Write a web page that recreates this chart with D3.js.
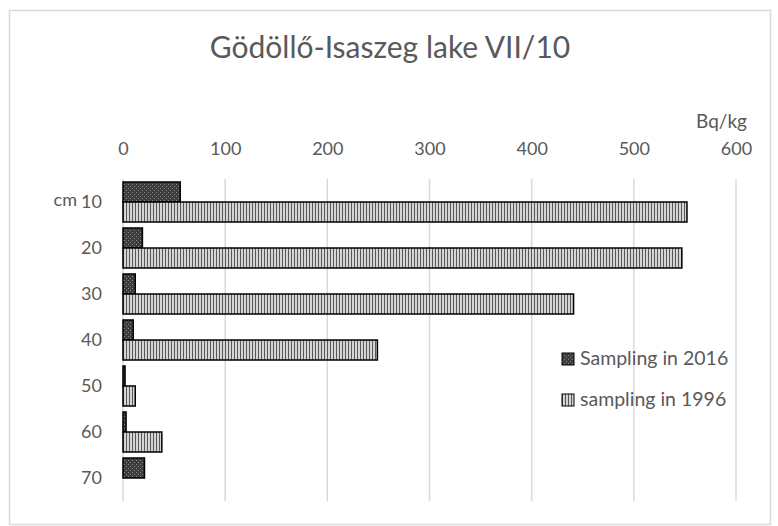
<!DOCTYPE html>
<html lang="en">
<head>
<meta charset="utf-8">
<title>Gödöllő-Isaszeg lake VII/10</title>
<script src="https://d3js.org/d3.v7.min.js"></script>
<style>
  body { margin: 0; background: #fff; }
  text { font-family: Lato, "Open Sans", sans-serif; fill: #595959; }
</style>
</head>
<body>
<div id="chart"></div>
<script>
// depth categories (cm) and activity concentrations (Bq/kg)
var depths = ["10", "20", "30", "40", "50", "60", "70"];
var sampling2016 = [56, 19, 12, 10, 2, 3, 21];
var sampling1996 = [552, 547, 441, 249, 12, 38, 0];
var xTicks = [0, 100, 200, 300, 400, 500, 600];
var seriesNames = ["Sampling in 2016", "sampling in 1996"];

var width = 778, height = 526;
var plot = {left: 123, right: 736, top: 179, bottom: 501};

var svg = d3.select("#chart").append("svg")
  .attr("width", width)
  .attr("height", height);

// fill patterns like the excel hatch fills
var defs = svg.append("defs");
var p1 = defs.append("pattern")
  .attr("id", "dots")
  .attr("width", 4).attr("height", 4)
  .attr("patternUnits", "userSpaceOnUse");
p1.append("rect").attr("width", 4).attr("height", 4).attr("fill", "#3c3c3c");
p1.append("rect").attr("x", 0).attr("y", 0).attr("width", 1).attr("height", 1).attr("fill", "#8a8a8a");
p1.append("rect").attr("x", 2).attr("y", 2).attr("width", 1).attr("height", 1).attr("fill", "#8a8a8a");

var p2 = defs.append("pattern")
  .attr("id", "vlines")
  .attr("width", 3).attr("height", 4)
  .attr("patternUnits", "userSpaceOnUse");
p2.append("rect").attr("width", 3).attr("height", 4).attr("fill", "#d4d4d4");
p2.append("rect").attr("x", 0).attr("width", 1).attr("height", 4).attr("fill", "#5a5a5a");

// outer border
svg.append("rect")
  .attr("x", 9.5).attr("y", 10.5)
  .attr("width", 761).attr("height", 514)
  .attr("fill", "none")
  .attr("stroke", "#d9d9d9")
  .attr("stroke-width", 1.5);

var x = d3.scaleLinear()
  .domain([0, 600])
  .range([plot.left, plot.right]);

var y = d3.scaleBand()
  .domain(depths)
  .range([plot.top, plot.bottom])
  .paddingInner(0.13)
  .paddingOuter(0.065);

var sub = d3.scaleBand()
  .domain([0, 1])
  .range([0, y.bandwidth()]);

// gridlines
svg.append("g")
  .selectAll("line")
  .data(xTicks)
  .join("line")
  .attr("x1", d => x(d)).attr("x2", d => x(d))
  .attr("y1", plot.top).attr("y2", plot.bottom)
  .attr("stroke", "#d9d9d9")
  .attr("stroke-width", 1.5);

// top axis labels
var xAxis = d3.axisTop(x).tickValues(xTicks).tickSize(0).tickPadding(0);
var gx = svg.append("g")
  .attr("transform", "translate(0,155)")
  .call(xAxis);
gx.select(".domain").remove();
gx.attr("font-family", null).attr("font-size", null);
gx.selectAll("text")
  .attr("font-size", 18)
  .attr("dy", 0);

svg.append("text")
  .attr("x", 747)
  .attr("y", 128)
  .attr("text-anchor", "end")
  .attr("font-size", 19)
  .text("Bq/kg");

// category labels
var yAxis = d3.axisLeft(y).tickSize(0).tickPadding(21);
var gy = svg.append("g")
  .attr("transform", "translate(" + plot.left + ",0)")
  .call(yAxis);
gy.select(".domain").remove();
gy.attr("font-family", null).attr("font-size", null);
gy.selectAll("text")
  .attr("font-size", 18);

svg.append("text")
  .attr("x", 77)
  .attr("y", y("10") + y.bandwidth() / 2 + 4)
  .attr("text-anchor", "end")
  .attr("font-size", 18)
  .text("cm");

// bars
var series = [
  {name: seriesNames[0], values: sampling2016, fill: "url(#dots)"},
  {name: seriesNames[1], values: sampling1996, fill: "url(#vlines)"}
];

series.forEach(function(s, i) {
  svg.append("g")
    .selectAll("rect")
    .data(depths.filter((d, j) => s.values[j] > 0))
    .join("rect")
    .attr("x", x(0))
    .attr("y", d => y(d) + sub(i))
    .attr("width", d => x(s.values[depths.indexOf(d)]) - x(0))
    .attr("height", sub.bandwidth())
    .attr("fill", s.fill)
    .attr("stroke", "#000")
    .attr("stroke-width", 1.5);
});

// legend
var legend = svg.append("g")
  .selectAll("g")
  .data(series)
  .join("g")
  .attr("transform", (d, i) => "translate(562," + (353 + i * 41) + ")");
legend.append("rect")
  .attr("width", 12).attr("height", 12)
  .attr("fill", d => d.fill)
  .attr("stroke", "#000")
  .attr("stroke-width", 1);
legend.append("text")
  .attr("x", 18)
  .attr("y", 12)
  .attr("font-size", 19.5)
  .text(d => d.name);

// title
svg.append("text")
  .attr("x", 390)
  .attr("y", 58)
  .attr("text-anchor", "middle")
  .attr("font-size", 30)
  .text("Gödöllő-Isaszeg lake VII/10");
</script>
</body>
</html>
